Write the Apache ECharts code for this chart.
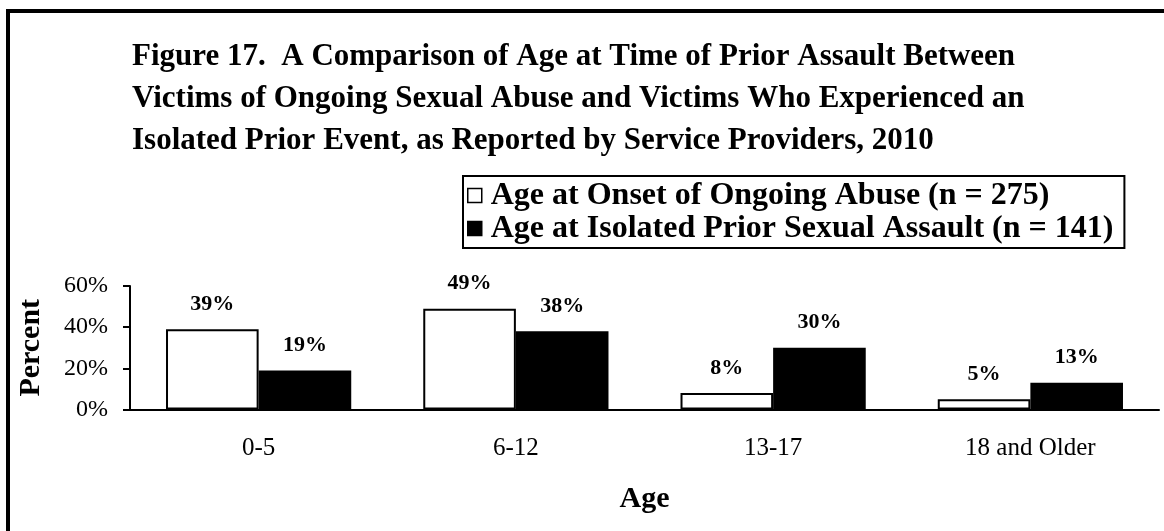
<!DOCTYPE html>
<html>
<head>
<meta charset="utf-8">
<title>Figure 17</title>
<script src="https://cdn.jsdelivr.net/npm/echarts@6/dist/echarts.min.js"></script>
<style>
  html, body { margin: 0; padding: 0; background: #fff; }
  #chart { width: 1164px; height: 531px; }
</style>
</head>
<body>
<div id="chart"></div>
<script>
// chart data
const ageGroups = ['0-5', '6-12', '13-17', '18 and Older']
const onsetOngoing = [39, 49, 8, 5]
const isolatedPrior = [19, 38, 30, 13]
const seriesNames = [
  'Age at Onset of Ongoing Abuse (n = 275)',
  'Age at Isolated Prior Sexual Assault (n = 141)'
]

const serif = '"Liberation Serif", "Times New Roman", serif'

const chart = echarts.init(document.getElementById('chart'))

const option = {
  animation: false,
  backgroundColor: '#fff',
  textStyle: { fontFamily: serif, color: '#000' },
  title: {
    text: 'Figure 17.  A Comparison of Age at Time of Prior Assault Between\n' +
      'Victims of Ongoing Sexual Abuse and Victims Who Experienced an\n' +
      'Isolated Prior Event, as Reported by Service Providers, 2010',
    left: 132,
    top: 36,
    padding: 0,
    textStyle: {
      fontFamily: serif,
      fontWeight: 'bold',
      fontSize: 31,
      lineHeight: 42,
      color: '#000'
    }
  },
  legend: {
    orient: 'vertical',
    left: 463,
    top: 176,
    padding: [3, 11, 3, 4],
    itemGap: 0,
    itemWidth: 14,
    itemHeight: 14,
    icon: 'rect',
    borderColor: '#000',
    borderWidth: 2,
    itemStyle: { borderColor: '#000', borderWidth: 1.5 },
    textStyle: {
      fontFamily: serif,
      fontWeight: 'bold',
      fontSize: 32,
      lineHeight: 33,
      color: '#000',
      padding: [0, 0, 0, 4]
    },
    data: seriesNames
  },
  // outer frame of the figure
  graphic: [{
    type: 'rect',
    shape: { x: 8, y: 11, width: 1200, height: 600 },
    style: { fill: 'none', stroke: '#000', lineWidth: 4 },
    silent: true
  }],
  grid: {
    left: 130,
    top: 286,
    width: 1029,
    height: 123.5
  },
  xAxis: {
    type: 'category',
    data: ageGroups,
    name: 'Age',
    nameLocation: 'middle',
    nameGap: 75,
    nameTextStyle: { fontFamily: serif, fontWeight: 'bold', fontSize: 30, color: '#000' },
    axisLine: { lineStyle: { color: '#000', width: 2 } },
    axisTick: { length: 7, lineStyle: { color: '#000', width: 2 } },
    axisLabel: { fontFamily: serif, fontSize: 25, color: '#000', margin: 26 }
  },
  yAxis: {
    type: 'value',
    min: 0,
    max: 60,
    interval: 20,
    name: 'Percent',
    nameLocation: 'middle',
    nameGap: 84,
    nameTextStyle: { fontFamily: serif, fontWeight: 'bold', fontSize: 30, color: '#000' },
    axisLine: { show: true, lineStyle: { color: '#000', width: 2 } },
    axisTick: { show: true, length: 7, lineStyle: { color: '#000', width: 2 } },
    axisLabel: { fontFamily: serif, fontSize: 24, color: '#000', margin: 22, formatter: '{value}%' },
    splitLine: { show: false }
  },
  series: [
    {
      name: seriesNames[0],
      type: 'bar',
      data: onsetOngoing,
      barWidth: '36%',
      barGap: '0%',
      itemStyle: { color: '#fff', borderColor: '#000', borderWidth: 2 },
      label: {
        show: true,
        position: 'top',
        distance: 14,
        formatter: '{c}%',
        fontFamily: serif,
        fontWeight: 'bold',
        fontSize: 22,
        color: '#000'
      }
    },
    {
      name: seriesNames[1],
      type: 'bar',
      data: isolatedPrior,
      barWidth: '36%',
      barGap: '0%',
      itemStyle: { color: '#000', borderColor: '#000', borderWidth: 2 },
      label: {
        show: true,
        position: 'top',
        distance: 14,
        formatter: '{c}%',
        fontFamily: serif,
        fontWeight: 'bold',
        fontSize: 22,
        color: '#000'
      }
    }
  ]
}

chart.setOption(option)
</script>
</body>
</html>
